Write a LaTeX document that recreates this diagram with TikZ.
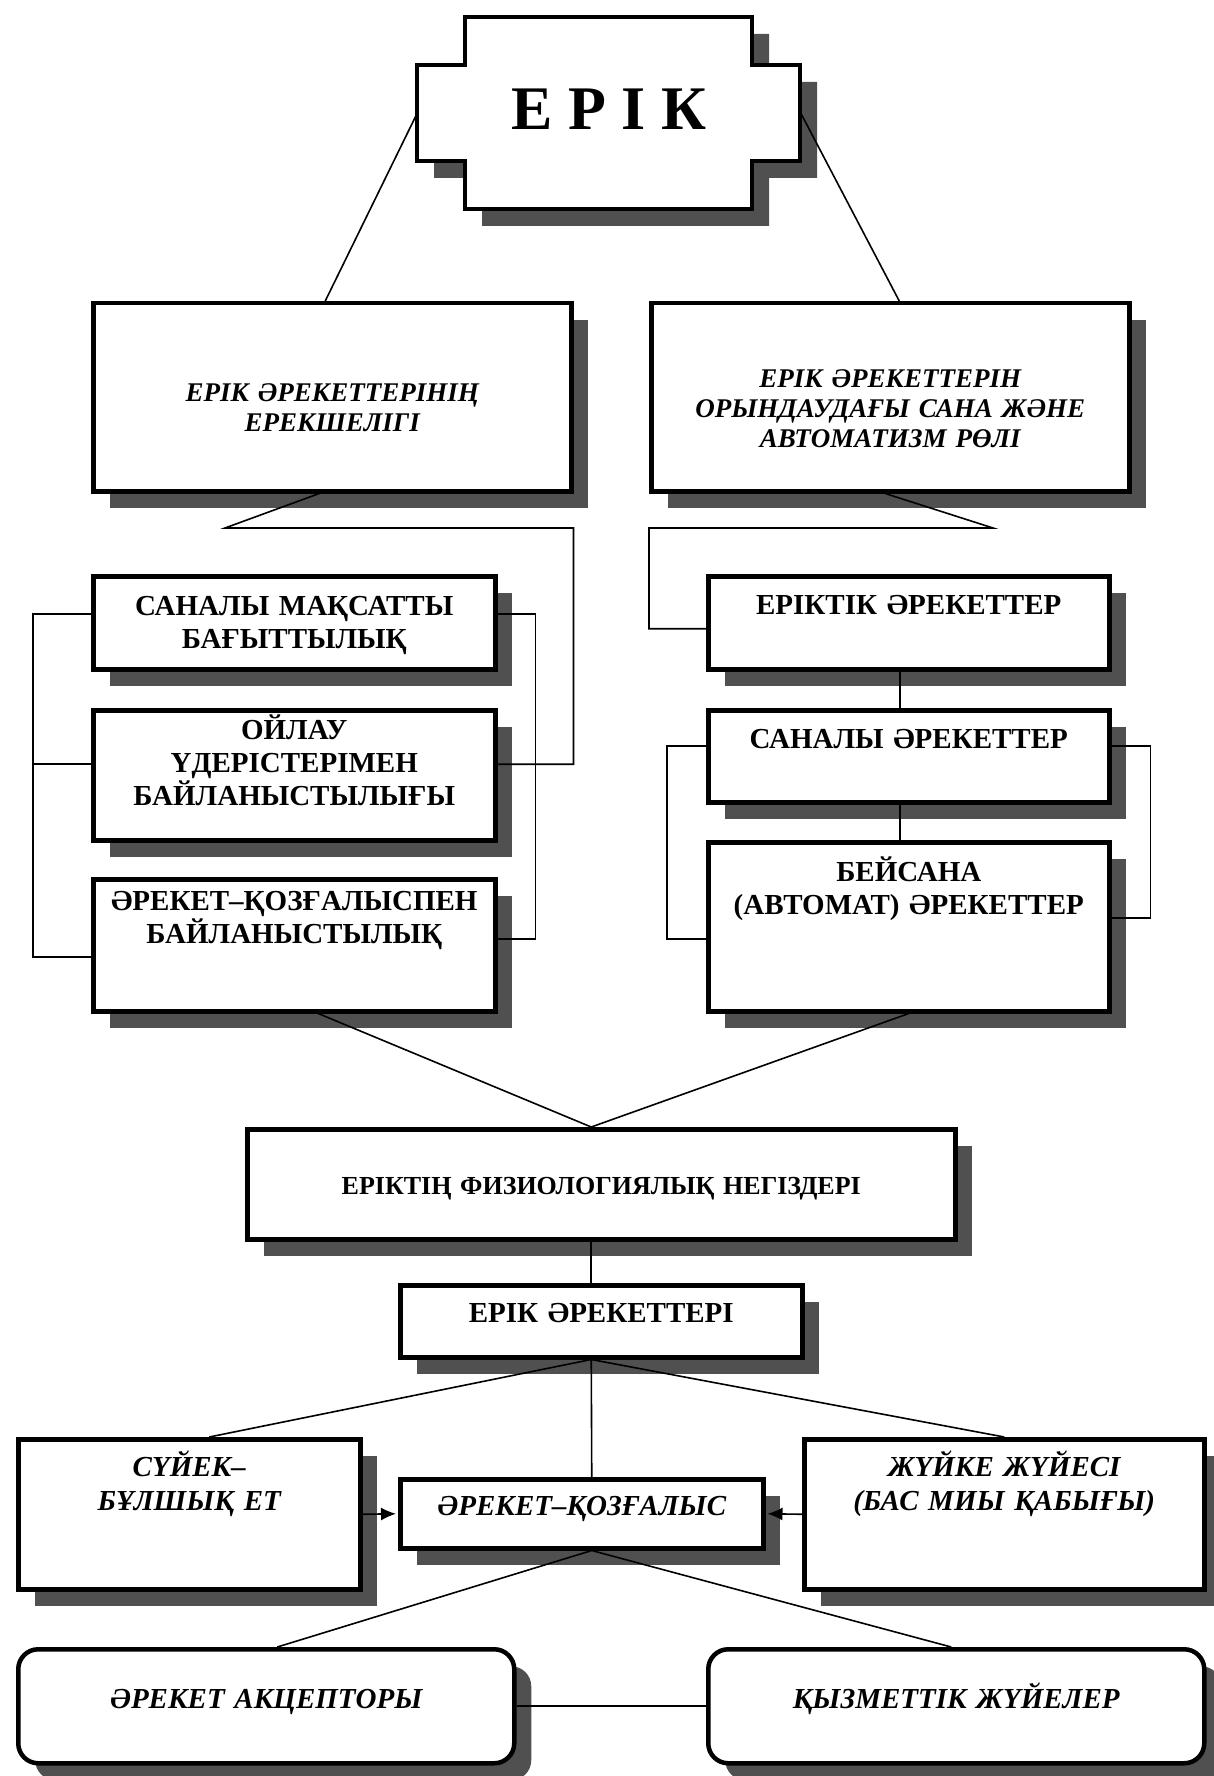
\documentclass[tikz,border=0pt]{standalone}
\usepackage{fontspec}
\setmainfont{Liberation Serif}
\usetikzlibrary{arrows.meta, shadows}
\definecolor{shade}{RGB}{80, 80, 80}

\begin{document}
\begin{tikzpicture}[
    x=1pt, y=-1pt,
    box/.style={draw, line width=4.5pt, fill=white, inner sep=0pt, align=center,
        drop shadow={shadow xshift=17pt, shadow yshift=-17pt, fill=shade, opacity=1}},
    rbox/.style={box, rounded corners=20pt},
    caps/.style={font=\fontsize{29}{33}\selectfont\bfseries},
    slant/.style={font=\fontsize{27}{30}\selectfont\bfseries\itshape},
    lowslant/.style={font=\fontsize{29}{34}\selectfont\bfseries\itshape},
    link/.style={line width=1.6pt},
    feed/.style={link, -{Latex[length=15pt, width=13pt]}, shorten >=2pt}
]
    \useasboundingbox (0,0) rectangle (1214,1776);

    % Title
    \draw[box] (465,17) -- (752,17) -- (752,65) -- (800,65) -- (800,161) -- (752,161)
        -- (752,209) -- (465,209) -- (465,161) -- (417,161) -- (417,65) -- (465,65) -- cycle;
    \node[font=\fontsize{62}{62}\selectfont\bfseries, minimum width=383pt, minimum height=95pt,
        text depth=7pt, inner sep=0pt] (erik) at (609,113) {Е Р І К};

    % Headings
    \node[box, slant, anchor=north west, text width=478pt, text height=98pt, text depth=90pt]
        (spec) at (91,301) {ЕРІК ӘРЕКЕТТЕРІНІҢ\\ЕРЕКШЕЛІГІ};
    \node[box, slant, anchor=north west, text width=478pt, text height=84pt, text depth=104pt]
        (role) at (649,301) {ЕРІК ӘРЕКЕТТЕРІН\\ОРЫНДАУДАҒЫ САНА ЖӘНЕ\\АВТОМАТИЗМ РӨЛІ};

    % Left column
    \node[box, caps, anchor=north west, text width=402pt, text height=39pt, text depth=54pt]
        (aim) at (91,574) {САНАЛЫ МАҚСАТТЫ\\БАҒЫТТЫЛЫҚ};
    \node[box, caps, anchor=north west, text width=402pt, text height=29pt, text depth=101pt]
        (think) at (91,708) {ОЙЛАУ\\ҮДЕРІСТЕРІМЕН\\БАЙЛАНЫСТЫЛЫҒЫ};
    \node[box, caps, anchor=north west, text width=402pt, text height=31pt, text depth=101pt]
        (move) at (91,877) {ӘРЕКЕТ–ҚОЗҒАЛЫСПЕН\\БАЙЛАНЫСТЫЛЫҚ};

    % Right column
    \node[box, caps, anchor=north west, text width=401pt, text height=38pt, text depth=55pt]
        (will) at (706,574) {ЕРІКТІК ӘРЕКЕТТЕР};
    \node[box, caps, anchor=north west, text width=401pt, text height=38pt, text depth=54pt]
        (conscious) at (706,708) {САНАЛЫ ӘРЕКЕТТЕР};
    \node[box, caps, anchor=north west, text width=401pt, text height=39pt, text depth=130pt]
        (auto) at (706,840) {БЕЙСАНА\\(АВТОМАТ) ӘРЕКЕТТЕР};

    % Physiology
    \node[box, anchor=north west, font=\fontsize{26}{30}\selectfont\bfseries,
        text width=708pt, text height=65pt, text depth=45pt]
        (phys) at (245,1127) {ЕРІКТІҢ ФИЗИОЛОГИЯЛЫҚ НЕГІЗДЕРІ};
    \node[box, caps, anchor=north west, text width=402pt, text height=37pt, text depth=35pt]
        (acts) at (398,1283) {ЕРІК ӘРЕКЕТТЕРІ};
    \node[box, lowslant, anchor=north west, text width=342pt, text height=37pt, text depth=113pt]
        (bone) at (16,1437) {СҮЙЕК–\\БҰЛШЫҚ ЕТ};
    \node[box, lowslant, anchor=north west, text width=363pt, text height=36pt, text depth=33pt]
        (motion) at (398,1477) {ӘРЕКЕТ–ҚОЗҒАЛЫС};
    \node[box, lowslant, anchor=north west, text width=400pt, text height=37pt, text depth=113pt]
        (nerve) at (802,1437) {ЖҮЙКЕ ЖҮЙЕСІ\\(БАС МИЫ ҚАБЫҒЫ)};
    \node[rbox, lowslant, anchor=north west, text width=496pt, text height=59pt, text depth=55pt]
        (accept) at (16,1647) {ӘРЕКЕТ АКЦЕПТОРЫ};
    \node[rbox, lowslant, anchor=north west, text width=496pt, text height=59pt, text depth=55pt]
        (func) at (706,1647) {ҚЫЗМЕТТІК ЖҮЙЕЛЕР};

    % Connectors
    \draw[link] (erik.west) -- ([xshift=-7pt]spec.north);
    \draw[link] (erik.east) -- ([xshift=9pt]role.north);

    \coordinate (lfork) at (225,528);
    \coordinate (rfork) at (993,528);
    \draw[link] ([xshift=-13pt]spec.south) -- (lfork) -- (lfork -| spec.east) |- ([yshift=11pt]think.east);
    \draw[link] ([xshift=-5pt]role.south) -- (rfork) -- (rfork -| role.west) |- ([yshift=-6pt]will.west);

    \draw[link] ([yshift=9pt]aim.west) -- ++(-58,0) |- ([yshift=-12pt]move.west);
    \draw[link] ([yshift=11pt]think.west) -- ++(-58,0);
    \draw[link] ([yshift=9pt]aim.east) -- ++(38,0) |- ([yshift=6pt]move.east);

    \draw[link] ([xshift=-9pt]will.south) -- ([xshift=-9pt]conscious.north);
    \draw[link] ([xshift=-9pt]conscious.south) -- ([xshift=-9pt]auto.north);
    \draw[link] ([yshift=10pt]conscious.west) -- ++(-39,0) |- ([yshift=-12pt]auto.west);
    \draw[link] ([yshift=10pt]conscious.east) -- ++(39,0) |- ([yshift=9pt]auto.east);

    \draw[link] ([xshift=24pt]move.south) -- ([xshift=-10pt]phys.north) -- (auto.south);
    \draw[link] ([xshift=-10pt]phys.south) -- ([xshift=-10pt]acts.north);
    \draw[link] ([xshift=20pt]bone.north) -- ([xshift=-10pt]acts.south) -- (nerve.north);
    \draw[link] ([xshift=-10pt]acts.south) -- ([xshift=10pt]motion.north);
    \draw[feed] (bone.east) -- (motion.west);
    \draw[feed] (nerve.west) -- (motion.east);
    \draw[link] ([xshift=11pt]accept.north) -- ([xshift=10pt]motion.south) -- ([xshift=-5pt]func.north);
    \draw[link] (accept.east) -- (func.west);
\end{tikzpicture}
\end{document}
